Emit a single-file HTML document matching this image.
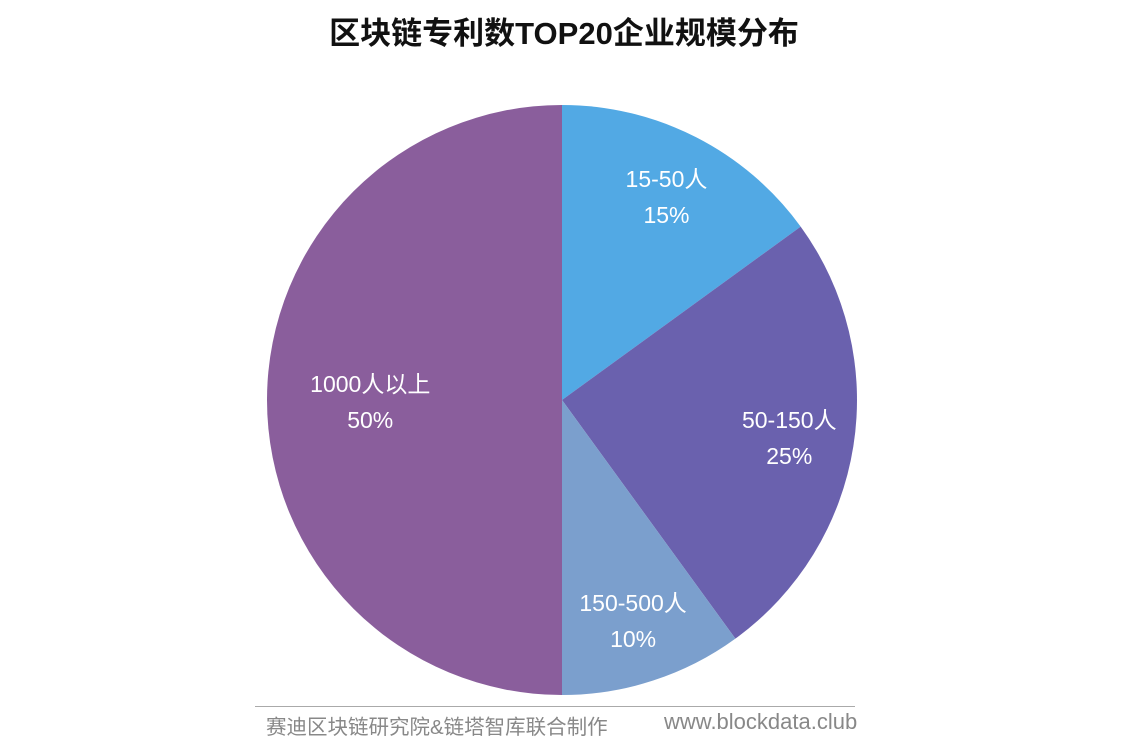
<!DOCTYPE html>
<html><head><meta charset="utf-8">
<style>
body{margin:0;background:#fff;width:1128px;height:748px;overflow:hidden;font-family:"Liberation Sans","Noto Sans CJK SC",sans-serif;}
#title{position:absolute;top:8px;left:0;width:1128px;text-align:center;font-size:31px;font-weight:bold;color:#111;}
#footline{position:absolute;left:255px;top:706px;width:600px;height:1px;background:#aaa;}
#foot1{position:absolute;left:266px;top:710px;font-size:20.5px;color:#888;}
#foot2{position:absolute;left:664px;top:709px;font-size:22px;color:#888;}
</style></head><body>
<div id="title">区块链专利数TOP20企业规模分布</div>
<svg id="chart" width="1128" height="748" style="position:absolute;left:0;top:0"></svg>
<div id="footline"></div>
<div id="foot1">赛迪区块链研究院&amp;链塔智库联合制作</div>
<div id="foot2">www.blockdata.club</div>
<script>
const categories = ["15-50人","50-150人","150-500人","1000人以上"];
const values = [15,25,10,50];
const colors = ["#52a9e4","#6a61ae","#7b9fcd","#8a5e9c"];
const cx=562, cy=400, r=295;
const svg=document.getElementById('chart');
const NS='http://www.w3.org/2000/svg';
const total=values.reduce((a,b)=>a+b,0);
let acc=0;
function pt(a,rr){return [cx+Math.sin(a)*rr, cy-Math.cos(a)*rr];}
values.forEach((v,i)=>{
  const a0=acc/total*2*Math.PI; acc+=v; const a1=acc/total*2*Math.PI;
  const p0=pt(a0,r), p1=pt(a1,r);
  const large=(a1-a0)>Math.PI?1:0;
  const path=document.createElementNS(NS,'path');
  path.setAttribute('d',`M${cx},${cy} L${p0[0]},${p0[1]} A${r},${r} 0 ${large} 1 ${p1[0]},${p1[1]} Z`);
  path.setAttribute('fill',colors[i]);
  
  
  svg.appendChild(path);
  const m=(a0+a1)/2, lp=pt(m,r*(v/total>=0.5?0.65:0.78));
  const t=document.createElementNS(NS,'text');
  t.setAttribute('x',lp[0]); t.setAttribute('y',lp[1]-8);
  t.setAttribute('text-anchor','middle');
  t.setAttribute('fill','#fff'); t.setAttribute('font-size','23');
  
  
  const s1=document.createElementNS(NS,'tspan'); s1.setAttribute('x',lp[0]); s1.textContent=categories[i];
  const s2=document.createElementNS(NS,'tspan'); s2.setAttribute('x',lp[0]); s2.setAttribute('dy','36'); s2.textContent=Math.round(v/total*100)+'%';
  t.appendChild(s1); t.appendChild(s2);
  svg.appendChild(t);
});
</script>
</body></html>
